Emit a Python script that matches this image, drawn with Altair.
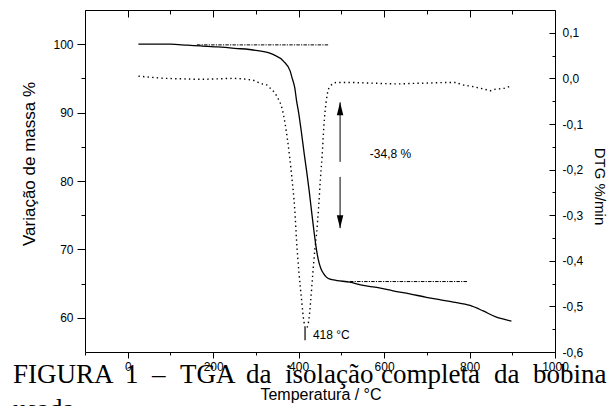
import altair as alt
import pandas as pd

# ---------------- data ----------------
tga_temp = [25, 60, 100, 140, 170, 210, 250, 300, 340, 365, 380, 385, 391, 395, 400,
            407, 413, 419, 425, 430, 435, 440, 446, 452, 458, 465, 473, 490, 520, 545,
            586, 621, 660, 699, 730, 762, 801, 832, 863, 880, 898]
tga_mass = [100.0, 100.0, 100.0, 99.85, 99.75, 99.6, 99.4, 99.1, 98.5, 97.5, 96.1, 95.0,
            93.6, 91.8, 90.0, 86.9, 84.0, 81.3, 78.4, 75.7, 73.1, 70.7, 68.5, 67.2, 66.5,
            65.95, 65.65, 65.45, 65.2, 64.8, 64.4, 63.95, 63.5, 63.0, 62.65, 62.3, 61.8,
            61.0, 60.1, 59.8, 59.5]

dtg_temp = [25, 60, 91, 130, 169, 210, 247, 278, 300, 310, 325, 333, 345, 350, 362, 374,
            384, 391, 395, 401, 407, 412, 417, 423, 428, 433, 438, 442, 447, 451, 455, 459,
            465, 473, 489, 520, 560, 590, 630, 668, 710, 746, 770, 777, 808, 840, 848, 859,
            879, 898]
dtg_rate = [0.005, 0.002, 0.0, -0.001, -0.002, -0.001, 0.0, -0.002, -0.006, -0.011, -0.014,
            -0.021, -0.033, -0.041, -0.069, -0.135, -0.216, -0.289, -0.354, -0.428, -0.487,
            -0.531, -0.549, -0.535, -0.49, -0.43, -0.375, -0.34, -0.28, -0.22, -0.17, -0.106,
            -0.047, -0.018, -0.009, -0.009, -0.010, -0.011, -0.012, -0.011, -0.010, -0.009,
            -0.009, -0.012, -0.018, -0.025, -0.027, -0.024, -0.022, -0.016]

ref_start = [162, 520]
ref_end = [469, 796]
ref_level = [99.9, 65.3]

arrow_temp = 497
arrow_top = 91.5
arrow_gap = [82.8, 80.6]
arrow_bottom = 73.1

loss_label = "-34,8 %"
loss_temp, loss_mass = 615, 84.0
peak_label = "418 °C"
peak_temp, peak_rate = 433.5, -0.563
peak_mark_temp, peak_mark_top, peak_mark_bottom = 415, -0.547, -0.574

x_major = [0, 200, 400, 600, 800, 1000]
x_minor = [-100, 100, 300, 500, 700, 900]
y_major = [60, 70, 80, 90, 100]
y_minor = [65, 75, 85, 95]
dtg_major = [0.1, 0.0, -0.1, -0.2, -0.3, -0.4, -0.5, -0.6]
dtg_minor = [0.05, -0.05, -0.15, -0.25, -0.35, -0.45, -0.55]

caption_words = ["FIGURA", "1", "–", "TGA", "da", "isolação", "completa", "da", "bobina", "usada"]

# ---------------- layout ----------------
W, H = 470, 342
caption_x = [-72, 40, 67, 95, 161, 200, 296, 409, 448, -72]
caption_y = [373, 373, 373, 373, 373, 373, 373, 373, 373, 408]

SANS = "Liberation Sans"
SERIF = "Liberation Serif"

tga = pd.DataFrame({"t": tga_temp, "m": tga_mass})
dtg = pd.DataFrame({"t": dtg_temp, "v": dtg_rate})
refs = pd.DataFrame({"t0": ref_start, "t1": ref_end, "m": ref_level})
shafts = pd.DataFrame({"t": [arrow_temp, arrow_temp],
                       "y1": [arrow_top, arrow_gap[1]], "y2": [arrow_gap[0], arrow_bottom]})
head_up = pd.DataFrame({"t": [arrow_temp], "m": [arrow_top]})
head_dn = pd.DataFrame({"t": [arrow_temp], "m": [arrow_bottom]})
loss = pd.DataFrame({"t": [loss_temp], "m": [loss_mass], "txt": [loss_label]})
peak = pd.DataFrame({"t": [peak_temp], "v": [peak_rate], "txt": [peak_label]})
peak_mark = pd.DataFrame({"t": [peak_mark_temp], "v1": [peak_mark_top], "v2": [peak_mark_bottom]})
caption = pd.DataFrame({"w": caption_words, "px": caption_x, "py": caption_y})

xs = alt.Scale(domain=[-100, 1000], nice=False, zero=False)
ms = alt.Scale(domain=[55, 105], nice=False, zero=False)
ds = alt.Scale(domain=[-0.6, 0.15], nice=False, zero=False)

common = dict(grid=False, domainColor="black", tickColor="black", labelColor="black",
              labelFont=SANS, labelFontSize=12, titleFont=SANS, titleColor="black",
              titleFontWeight="normal", labelOverlap=False, labelFlush=False,
              tickWidth=1, domainWidth=1)

ax_x_major = alt.Axis(orient="bottom", values=x_major, format="d", tickSize=6, labelPadding=3,
                      title="Temperatura / °C", titleFontSize=16, titleX=235.5, titleY=47,
                      titleAlign="center", titleBaseline="alphabetic", titleAngle=0, **common)
ax_x_minor = alt.Axis(orient="bottom", values=x_minor, tickSize=3, labels=False, domain=False,
                      title=None, **common)
ax_top_major = alt.Axis(orient="bottom", offset=-H, values=x_major, tickSize=7, labels=False,
                        domain=True, title=None, **common)
ax_top_minor = alt.Axis(orient="bottom", offset=-H, values=x_minor, tickSize=4, labels=False,
                        domain=False, title=None, **common)
ax_y_major = alt.Axis(orient="left", values=y_major, format="d", tickSize=8, labelPadding=4,
                      title="Variação de massa %", titleFontSize=17, titleX=-56, titleY=153.5,
                      titleAngle=270, titleAlign="center", titleBaseline="middle", **common)
ax_y_minor = alt.Axis(orient="left", values=y_minor, tickSize=4, labels=False, domain=False,
                      title=None, **common)
ax_r_labels = alt.Axis(orient="right", values=dtg_major, ticks=False, labelPadding=7,
                       labelExpr="replace(replace(format(datum.value, '.1f'), '.', ','), '\u2212', '-')",
                       domain=True, title="DTG %/min", titleFontSize=15, titleX=44, titleY=176,
                       titleAngle=90, titleAlign="center", titleBaseline="middle", **common)
ax_r_major = alt.Axis(orient="left", offset=-W, values=dtg_major, tickSize=6, labels=False,
                      domain=False, title=None, **common)
ax_r_minor = alt.Axis(orient="left", offset=-W, values=dtg_minor, tickSize=3, labels=False,
                      domain=False, title=None, **common)

tga_line = alt.Chart(tga).mark_line(color="black", strokeWidth=1.3, interpolate="monotone").encode(
    x=alt.X("t:Q", scale=xs, axis=ax_x_major),
    y=alt.Y("m:Q", scale=ms, axis=ax_y_major),
)

ref_top = alt.Chart(refs.iloc[[0]]).mark_rule(color="black", strokeWidth=1,
                                              strokeDash=[3.5, 1.2, 1.2, 1.2]).encode(
    x=alt.X("t0:Q", scale=xs, axis=ax_x_minor),
    x2="t1:Q",
    y=alt.Y("m:Q", scale=ms, axis=ax_y_minor),
)

ref_bot = alt.Chart(refs.iloc[[1]]).mark_rule(color="black", strokeWidth=1,
                                              strokeDash=[3.5, 1.2, 1.2, 1.2]).encode(
    x=alt.X("t0:Q", scale=xs, axis=ax_top_major),
    x2="t1:Q",
    y=alt.Y("m:Q", scale=ms, axis=None),
)

shaft = alt.Chart(shafts).mark_rule(color="black", strokeWidth=1).encode(
    x=alt.X("t:Q", scale=xs, axis=ax_top_minor),
    y=alt.Y("y1:Q", scale=ms, axis=None),
    y2="y2:Q",
)

up = alt.Chart(head_up).mark_point(shape="M0,0L0.5,2L-0.5,2Z", size=169, filled=True,
                                   color="black", opacity=1, strokeWidth=0).encode(
    x=alt.X("t:Q", scale=xs, axis=None),
    y=alt.Y("m:Q", scale=ms, axis=None),
)
dn = alt.Chart(head_dn).mark_point(shape="M0,0L0.5,-2L-0.5,-2Z", size=169, filled=True,
                                   color="black", opacity=1, strokeWidth=0).encode(
    x=alt.X("t:Q", scale=xs, axis=None),
    y=alt.Y("m:Q", scale=ms, axis=None),
)

loss_txt = alt.Chart(loss).mark_text(font=SANS, fontSize=12, color="black", align="center",
                                     baseline="middle").encode(
    x=alt.X("t:Q", scale=xs, axis=None),
    y=alt.Y("m:Q", scale=ms, axis=None),
    text="txt:N",
)

dtg_line = alt.Chart(dtg).mark_line(color="black", strokeWidth=1.4, strokeDash=[1.4, 3.2],
                                    interpolate="monotone").encode(
    x=alt.X("t:Q", scale=xs, axis=None),
    y=alt.Y("v:Q", scale=ds, axis=ax_r_labels),
)

peak_txt = alt.Chart(peak).mark_text(font=SANS, fontSize=12, color="black", align="left",
                                     baseline="middle").encode(
    x=alt.X("t:Q", scale=xs, axis=None),
    y=alt.Y("v:Q", scale=ds, axis=ax_r_major),
    text="txt:N",
)

peak_rule = alt.Chart(peak_mark).mark_rule(color="black", strokeWidth=1.2).encode(
    x=alt.X("t:Q", scale=xs, axis=None),
    y=alt.Y("v1:Q", scale=ds, axis=ax_r_minor),
    y2="v2:Q",
)

cap = alt.Chart(caption).mark_text(font=SERIF, fontSize=27, color="black", align="left",
                                   baseline="alphabetic").encode(
    x=alt.X("px:Q", scale=None, axis=None),
    y=alt.Y("py:Q", scale=None, axis=None),
    text="w:N",
)

chart = alt.layer(
    tga_line, ref_top, ref_bot, shaft, up, dn, loss_txt,
    dtg_line, peak_txt, peak_rule, cap
).resolve_scale(x="independent", y="independent").properties(
    width=W, height=H,
    autosize=alt.AutoSizeParams(type="none"),
    padding={"left": 85, "top": 10, "right": 61, "bottom": 54},
    background="white",
).configure_view(strokeWidth=0)

chart.save("out.html", embed_options={"renderer": "svg", "actions": False})
